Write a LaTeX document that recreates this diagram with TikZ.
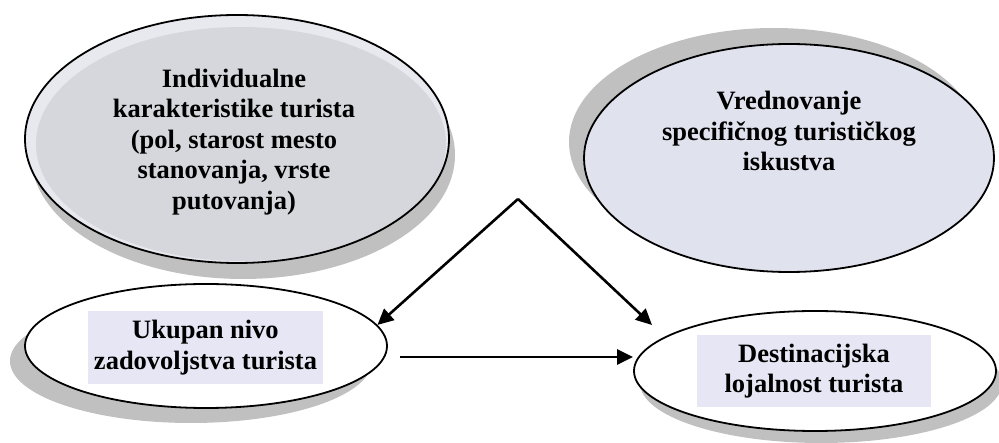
\documentclass[tikz,border=0pt]{standalone}
\usepackage{fontspec}
\setmainfont{Liberation Serif}
\usetikzlibrary{shapes.geometric,arrows.meta}

\definecolor{shadegray}{RGB}{192,192,192}
\definecolor{greyfill}{RGB}{214,215,220}
\definecolor{greyrim}{RGB}{232,233,239}
\definecolor{lavfill}{RGB}{224,226,238}
\definecolor{labelbg}{RGB}{230,230,244}

\begin{document}
\begin{tikzpicture}[x=1pt,y=-1pt,
  oval/.style={ellipse, draw=black, line width=1.8pt, inner sep=0pt},
  shadowfill/.style={fill=shadegray},
  caption/.style={font=\bfseries\fontsize{26.5}{30.5}\selectfont, align=center, text=black, inner sep=0pt},
  labelbox/.style={caption, fill=labelbg},
  link/.style={line width=2.6pt, -{Triangle[length=16pt,width=15pt]}},
]
\path[use as bounding box] (0,0) rectangle (999,443);

% drop shadows behind the ovals
\fill[shadowfill] (243,155) ellipse [x radius=212, y radius=124];
\fill[shadowfill] (774,142) ellipse [x radius=205, y radius=114];
\fill[shadowfill] (191,361) ellipse [x radius=181, y radius=62];
\fill[shadowfill] (821,383) ellipse [x radius=181, y radius=60];

% factor ovals
\node[oval, minimum width=424pt, minimum height=248pt, fill=greyrim,
      path picture={\fill[greyfill] ([xshift=4pt,yshift=-5pt]path picture bounding box.center)
                    ellipse [x radius=205pt, y radius=117pt];}]
  (indiv) at (237,139) {};
\node[oval, minimum width=410pt, minimum height=228pt, fill=lavfill] (vred) at (789,158) {};
\node[oval, minimum width=362pt, minimum height=124pt, fill=white] (ukupan) at (206,346) {};
\node[oval, minimum width=362pt, minimum height=120pt, fill=white] (dest) at (815,371) {};

% texts
\node[caption] (indivtext) at (234,142)
  {Individualne\\karakteristike turista\\(pol, starost mesto\\stanovanja, vrste\\putovanja)};
\node[caption] (vredtext) at (789,131)
  {Vrednovanje\\specifičnog turističkog\\iskustva};
\node[labelbox, minimum width=235pt, minimum height=73pt] (ukupantext) at (205.5,347.5)
  {Ukupan nivo\\zadovoljstva turista};
\node[labelbox, minimum width=234pt, minimum height=72pt] (desttext) at (814,371)
  {Destinacijska\\lojalnost turista};

% connectors
\coordinate (apex) at (518,199);
\coordinate (rtip) at (652,325);
\coordinate (hstart) at (400,357);
\draw[link] (apex) -- (ukupan.7);
\draw[link] (apex) -- (rtip);
\draw[link] (hstart) -- (hstart -| dest.west);
\end{tikzpicture}
\end{document}
